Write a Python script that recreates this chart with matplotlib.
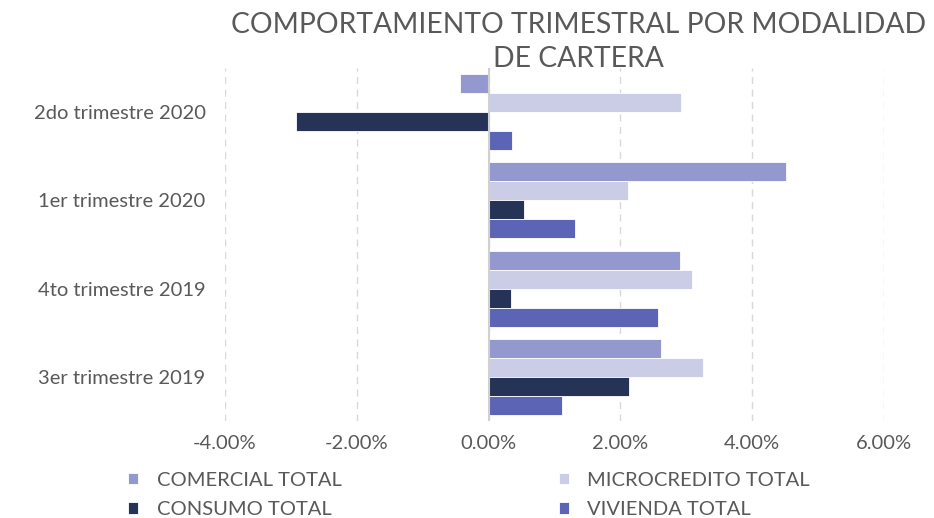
import matplotlib.pyplot as plt
import numpy as np
from matplotlib.ticker import FuncFormatter

plt.rcParams['font.family'] = ['Lato', 'DejaVu Sans']

# categories, bottom to top
trimestres = ["3er trimestre 2019", "4to trimestre 2019", "1er trimestre 2020", "2do trimestre 2020"]

# quarterly variation, %
comercial = [2.62, 2.90, 4.52, -0.43]
microcredito = [3.25, 3.09, 2.11, 2.92]
consumo = [2.13, 0.34, 0.53, -2.92]
vivienda = [1.12, 2.57, 1.31, 0.35]

series = [
    ("COMERCIAL TOTAL", comercial, "#9398CF"),
    ("MICROCREDITO TOTAL", microcredito, "#CBCCE6"),
    ("CONSUMO TOTAL", consumo, "#243356"),
    ("VIVIENDA TOTAL", vivienda, "#5C64B5"),
]

text_col = "#595959"

fig = plt.figure(figsize=(9.34, 5.18), dpi=100)
ax = fig.add_axes([0.2409, 0.1873, 0.7056, 0.6814])

y = np.arange(len(trimestres))
h = 0.215
bars = {}
for i, (name, vals, col) in enumerate(series):
    # first series on top of each group
    off = (1.5 - i) * h
    bars[name] = ax.barh(y + off, vals, h, color=col, edgecolor="white", linewidth=0.6, label=name, zorder=3)

ax.set_xlim(-4, 6)
ax.set_ylim(-0.5, 3.5)
ax.set_xticks([-4, -2, 0, 2, 4, 6])
ax.xaxis.set_major_formatter(FuncFormatter(lambda v, p: f"{v:.2f}%"))
ax.set_yticks(y)
ax.set_yticklabels(trimestres)
ax.tick_params(axis="both", length=0, labelsize=14.5, labelcolor=text_col)
ax.tick_params(axis="y", pad=14)
ax.tick_params(axis="x", pad=10)

for s in ax.spines.values():
    s.set_visible(False)
ax.grid(axis="x", color="#D9D9D9", linestyle=(0, (5, 4)), linewidth=1, zorder=0)
ax.axvline(0, color="#D0D0D0", linewidth=1.5, zorder=4)

fig.text(0.619, 0.977, "COMPORTAMIENTO TRIMESTRAL POR MODALIDAD\nDE CARTERA", ha="center", va="top",
         fontsize=20.3, color=text_col, linespacing=1.4)

order = ["COMERCIAL TOTAL", "CONSUMO TOTAL", "MICROCREDITO TOTAL", "VIVIENDA TOTAL"]
leg = fig.legend([bars[n] for n in order], order, ncol=2, loc="lower left",
                 bbox_to_anchor=(0.118, -0.035), frameon=False, fontsize=14.5,
                 handlelength=0.5, handleheight=0.5, handletextpad=0.9,
                 columnspacing=10.8, labelspacing=0.62, labelcolor=text_col)

fig.savefig("out.png", dpi=100)
